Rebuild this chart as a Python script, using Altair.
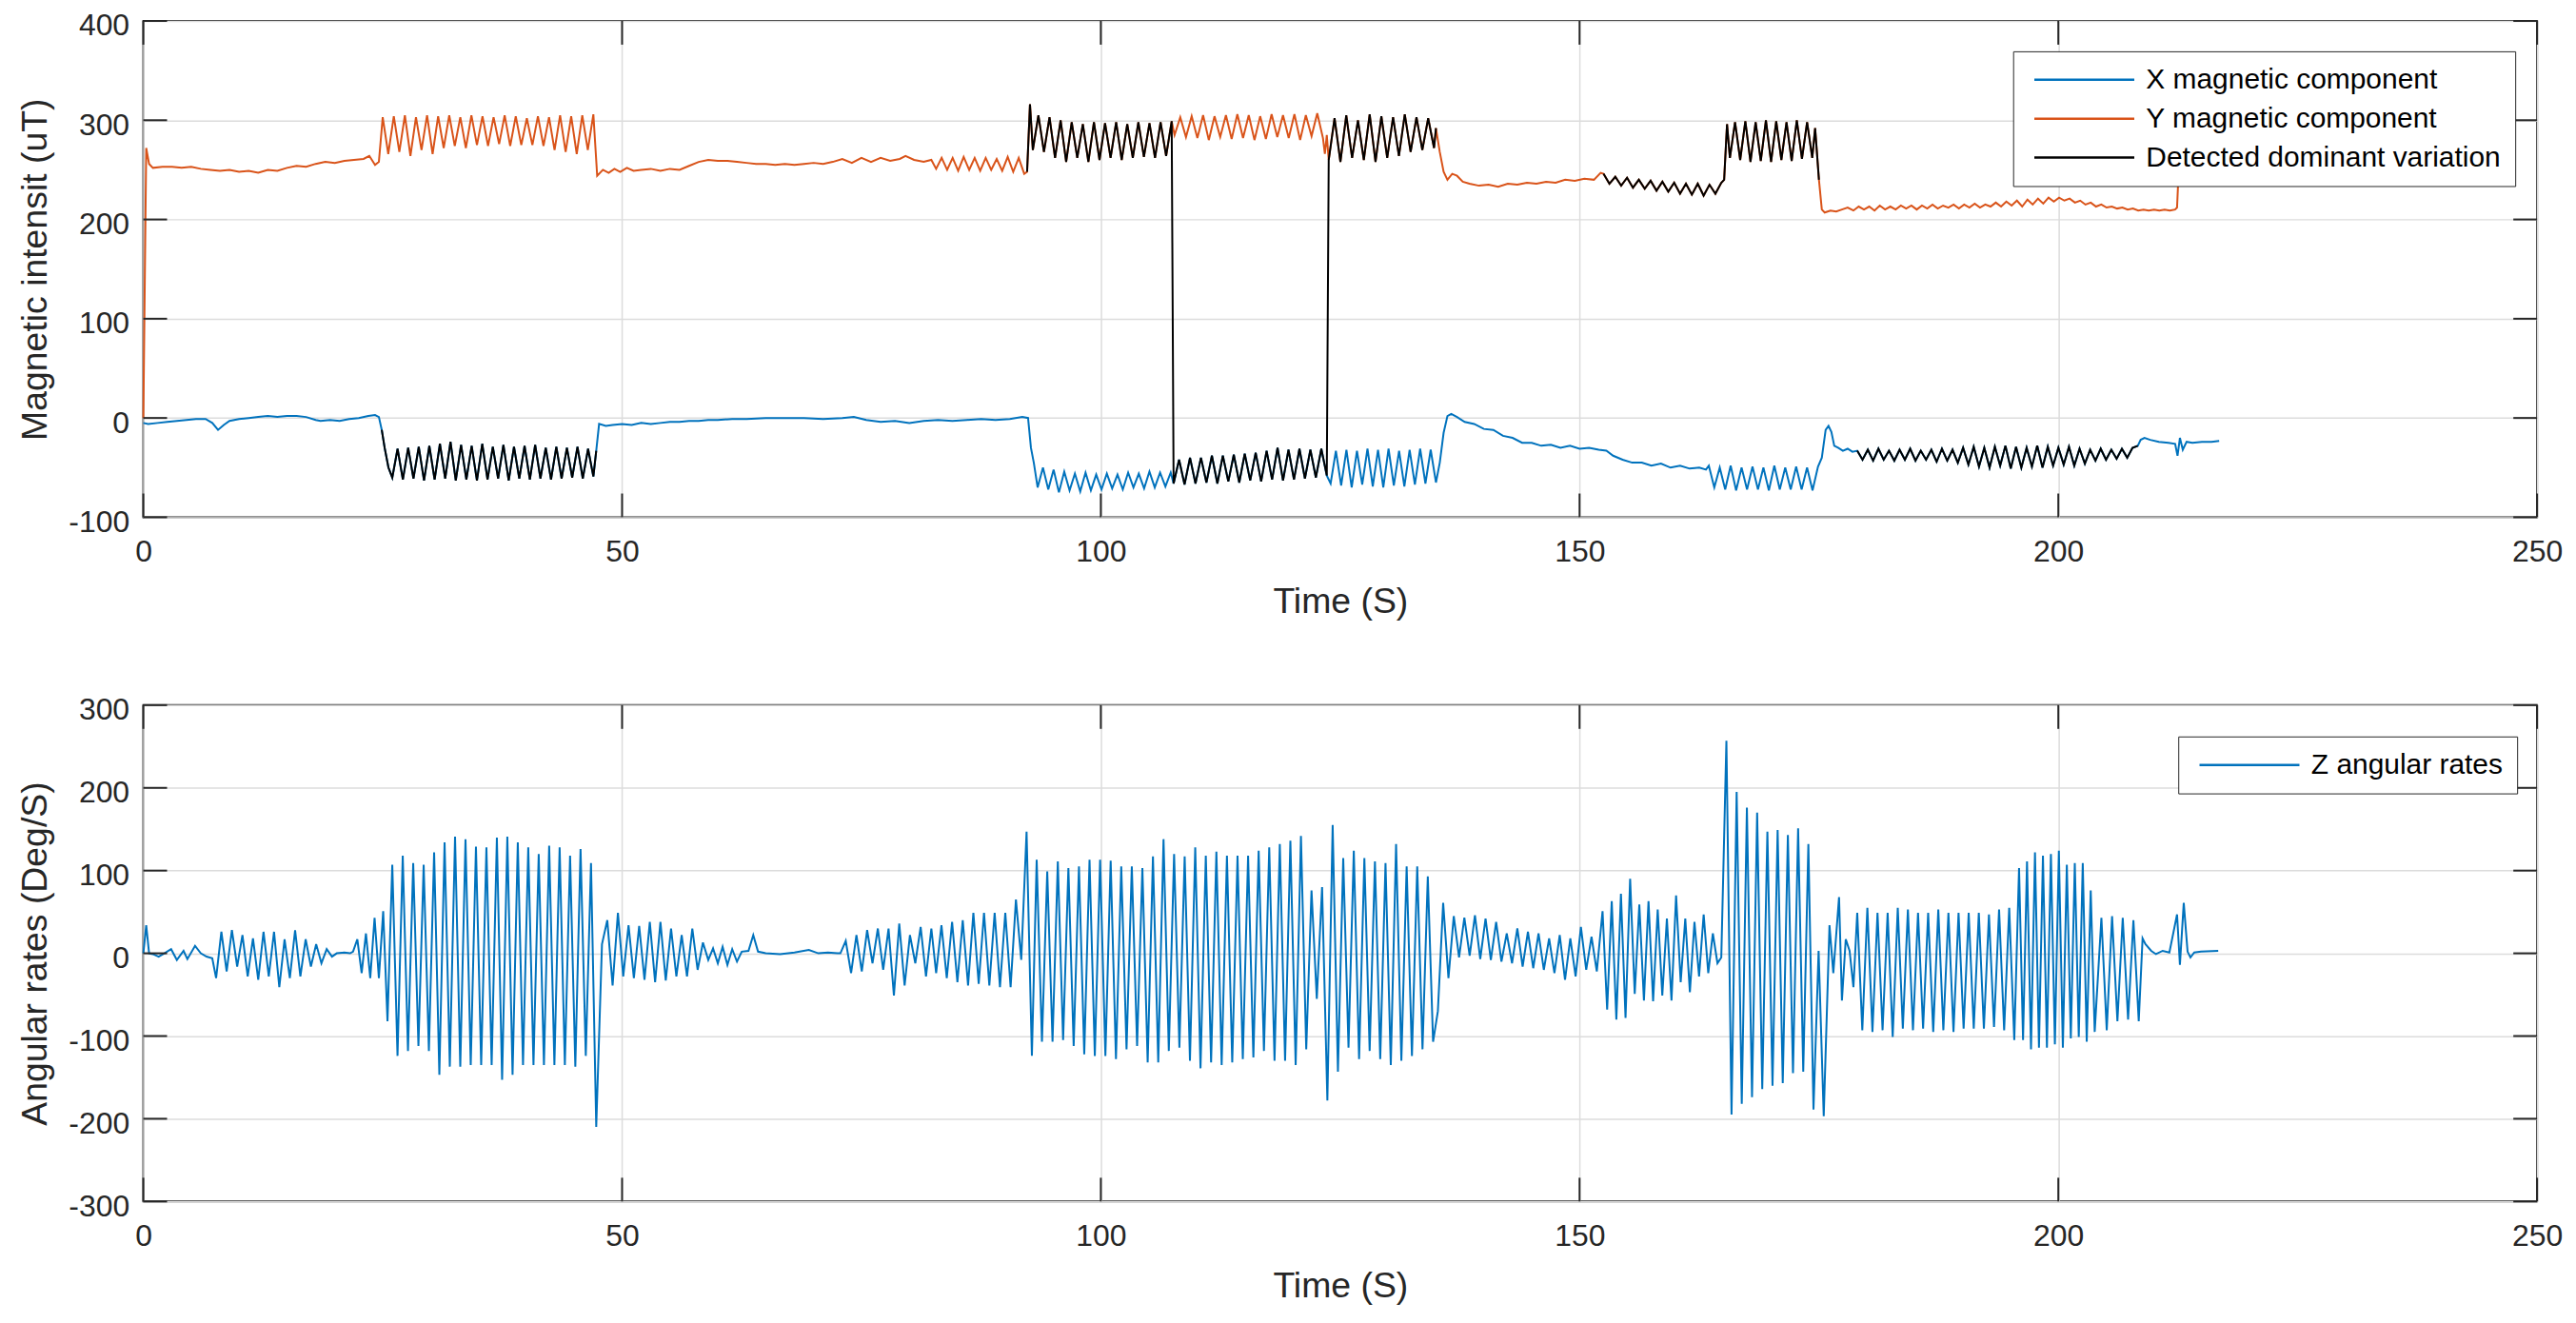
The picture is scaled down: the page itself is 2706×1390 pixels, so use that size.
import altair as alt
import pandas as pd

alt.data_transformers.disable_max_rows()

FONT = "Liberation Sans"
AXC = "#262626"
GRID = "#dcdcdc"
BLUE = "#0072BD"
ORANGE = "#D95319"
BLACK = "#000000"
W, H = 2522, 523
TL = 25

x_ticks = [0, 50, 100, 150, 200, 250]
y_ticks_top = [-100, 0, 100, 200, 300, 400]
y_ticks_bot = [-300, -200, -100, 0, 100, 200, 300]

SERIES_TOP = ["X magnetic component", "Y magnetic component", "Detected dominant variation"]
SERIES_BOT = ["Z angular rates"]

# ---------------- X magnetic component ----------------
xa_t = [0.0, 0.5, 1.5, 2.5, 3.5, 4.5, 5.5, 6.5, 7.2, 7.8, 8.4, 9.0, 10.0, 11.0, 12.0, 13.0, 14.0, 15.0,
        16.0, 17.0, 18.0, 18.5, 19.5, 20.5, 21.5, 22.5, 23.5, 24.2, 24.6]
xa_v = [-5, -6, -5, -4, -3, -2, -1, -1, -5, -12, -7, -3, -1, 0, 1, 2, 1, 2, 2, 1, -2, -3, -2, -3, -1, 0, 2, 3, 1]
b1_lead_t = [24.9, 25.2, 25.6]
b1_lead_v = [-12, -30, -50]
b1_span = (26.0, 47.0)
b1_osc = [-60, -31, -62, -30, -61, -29, -63, -28, -62, -26, -61, -24, -63, -27, -62, -28, -63, -26, -62, -29,
          -61, -27, -63, -29, -61, -28, -62, -27, -61, -30, -62, -29, -61, -30, -60, -29, -61, -31, -59]
b1_end_t = [47.3]
b1_end_v = [-33]
xc_t = [47.6, 48.3, 49.0, 50.0, 51.0, 52.0, 53.0, 54.0, 55.0, 56.0, 57.0, 58.0, 59.0, 60.0, 61.5, 63.0, 65.0,
        67.0, 69.0, 71.0, 73.0, 74.2, 75.5, 77.0, 78.5, 80.0, 81.5, 83.0, 84.5, 86.0, 87.5, 89.0, 90.5, 91.8]
xc_v = [-6, -8, -7, -6, -7, -5, -6, -5, -4, -4, -3, -3, -2, -2, -1, -1, 0, 0, 0, -1, 0, 1, -2, -4, -3, -5,
        -3, -2, -3, -2, -1, -2, -1, 1]
xd_lead_t = [92.4, 92.7, 93.0]
xd_lead_v = [0, -30, -45]
xd_span = (93.4, 107.3)
xd_osc = [-70, -50, -72, -52, -75, -54, -73, -56, -74, -55, -73, -57, -72, -56, -71, -57, -72, -55, -70, -56,
          -71, -54, -70, -55, -69, -55]
xe_span = (107.6, 123.6)
xe_osc = [-66, -42, -67, -40, -66, -40, -65, -38, -66, -38, -64, -37, -65, -36, -63, -35, -64, -33, -62, -30,
          -63, -32, -62, -31, -61, -32, -60, -31, -58]
xf_span = (124.0, 135.0)
xf_osc = [-66, -33, -68, -32, -70, -33, -67, -31, -69, -32, -70, -31, -68, -33, -69, -32, -67, -31, -66, -32, -65]
xg_t = [135.4, 135.8, 136.2, 136.6, 137.2, 138.0, 139.0, 140.0, 141.0, 142.0, 143.0, 144.0, 145.0, 146.0,
        147.0, 148.0, 149.0, 150.0, 151.0, 152.0, 152.8, 153.5, 154.5, 155.5, 156.5, 157.5, 158.5, 159.5,
        160.5, 161.5, 162.5, 163.2]
xg_v = [-45, -15, 2, 4, 1, -4, -6, -11, -12, -18, -20, -25, -25, -28, -27, -30, -28, -31, -30, -32, -33, -38,
        -42, -45, -45, -48, -46, -50, -48, -51, -50, -52]
xh_span = (163.5, 174.9)
xh_osc = [-48, -70, -50, -72, -48, -73, -50, -72, -49, -72, -50, -73, -48, -72, -50, -72, -49, -72, -50, -73, -49]
xi_t = [175.3, 175.7, 176.0, 176.3, 176.6, 177.0, 177.5, 178.0, 178.5]
xi_v = [-40, -12, -8, -14, -28, -30, -33, -31, -34]
xj_span = (179.0, 208.3)
xj_osc = [-33, -42, -32, -43, -31, -42, -33, -43, -32, -42, -31, -43, -33, -42, -32, -44, -31, -43, -32, -45,
          -30, -47, -29, -49, -30, -50, -29, -48, -28, -51, -29, -50, -30, -49, -28, -50, -29, -48, -30, -47,
          -29, -48, -31, -46, -32, -43, -31, -42, -32, -41, -31, -40, -30, -28]
xk_t = [208.6, 209.0, 209.6, 210.5, 211.5, 212.2, 212.45, 212.7, 213.0, 213.4, 214.0, 215.0, 216.0, 216.8]
xk_v = [-22, -20, -22, -24, -25, -26, -38, -20, -32, -24, -25, -24, -24, -23]

# ---------------- Y magnetic component ----------------
ya_t = [0.0, 0.3, 0.6, 1.0, 2.0, 3.0, 4.0, 5.0, 6.0, 7.0, 8.0, 9.0, 10.0, 11.0, 12.0, 13.0, 14.0, 15.0, 16.0,
        17.0, 18.0, 19.0, 20.0, 21.0, 22.0, 23.0, 23.6, 24.2, 24.6]
ya_v = [0, 272, 256, 252, 253, 253, 252, 253, 251, 250, 249, 250, 248, 249, 247, 250, 249, 252, 254, 253, 256,
        258, 257, 259, 260, 261, 264, 255, 258]
yb_span = (25.0, 47.0)
yb_osc = [303, 266, 304, 268, 305, 264, 303, 270, 305, 266, 304, 272, 305, 274, 303, 272, 305, 275, 304, 274,
          303, 276, 305, 274, 304, 275, 302, 275, 304, 274, 303, 270, 305, 268, 304, 266, 305, 270, 306]
yc_t = [47.4, 48.0, 48.6, 49.2, 49.8, 50.5, 51.2, 52.0, 53.0, 54.0, 55.0, 56.0, 57.0, 58.0, 59.0, 60.0, 61.0,
        62.0, 63.0, 64.0, 65.0, 66.0, 67.0, 68.0, 69.0, 70.0, 71.0, 72.0, 73.0, 74.0, 75.0, 76.0, 77.0, 78.0,
        79.0, 79.6, 80.5, 81.5, 82.3]
yc_v = [244, 250, 247, 251, 248, 252, 249, 250, 251, 249, 251, 250, 254, 258, 260, 259, 259, 258, 257, 256,
        256, 255, 256, 255, 256, 257, 256, 258, 261, 257, 262, 258, 262, 259, 261, 264, 260, 258, 260]
yc2_span = (82.8, 92.0)
yc2_osc = [251, 262, 250, 262, 249, 263, 250, 262, 249, 262, 250, 261, 249, 263, 248, 262, 246]
yd_lead_t = [92.3, 92.6]
yd_lead_v = [248, 316]
yd_span = (92.9, 107.4)
yd_osc = [270, 305, 268, 303, 262, 300, 258, 298, 262, 296, 258, 298, 260, 297, 262, 298, 260, 296, 262, 298,
          263, 297, 262, 298, 264, 299]
ye_span = (107.7, 123.2)
ye_osc = [285, 303, 283, 304, 282, 305, 280, 304, 283, 305, 281, 306, 282, 305, 280, 304, 281, 306, 283, 305,
          282, 306, 280, 305, 284, 307, 282]
ye_end_t = [123.4, 123.6]
ye_end_v = [266, 285]
yf_span = (123.8, 134.8)
yf_osc = [260, 302, 258, 305, 262, 300, 260, 306, 258, 304, 262, 303, 264, 306, 268, 303, 270, 302, 272]
yf_end_t = [135.0]
yf_end_v = [292]
yg_t = [135.4, 135.8, 136.2, 136.7, 137.2, 137.8, 138.5, 139.5, 140.5, 141.5, 142.5, 143.5, 144.5, 145.5,
        146.5, 147.5, 148.5, 149.5, 150.5, 151.5, 152.2]
yg_v = [268, 248, 240, 246, 244, 238, 236, 234, 235, 233, 236, 235, 237, 236, 238, 237, 240, 239, 241, 240, 247]
yh_span = (152.5, 164.8)
yh_osc = [246, 236, 243, 234, 242, 232, 240, 231, 239, 229, 238, 228, 237, 226, 236, 225, 236, 224, 235, 226, 237]
yh_mid_t = [165.1, 165.4]
yh_mid_v = [240, 296]
yh2_span = (165.7, 174.3)
yh2_osc = [262, 298, 260, 299, 258, 298, 259, 300, 258, 299, 260, 298, 259, 300, 261, 298, 262]
yh_end_t = [174.6, 175.0]
yh_end_v = [292, 240]
yi_t = [175.3, 175.6, 176.2, 176.8, 177.4, 178.0]
yi_v = [210, 207, 209, 208, 210, 212]
yj_span = (178.6, 212.2)
yj_osc = [209, 213, 210, 213, 209, 214, 210, 213, 210, 214, 211, 214, 210, 214, 211, 215, 211, 214, 212, 215,
          211, 215, 212, 216, 212, 215, 213, 217,
          213, 218, 214, 219, 213, 220, 215, 221, 216, 222, 218, 222, 219, 221, 217, 219,
          215, 217, 213, 215, 212, 213, 211, 212, 210, 211, 209, 210, 209, 210, 209, 210, 209, 210]
yk_t = [212.4, 212.6, 213.5, 215.0, 216.8]
yk_v = [212, 255, 256, 255, 255]

# ---------------- Z angular rates ----------------
z1_t = [0.0, 0.3, 0.6, 1.0, 1.6, 2.2, 2.9, 3.5, 4.2, 4.6, 5.4, 6.0, 6.6, 7.2]
z1_v = [0, 34, 0, -1, -4, 0, 5, -8, 3, -7, 9, 0, -4, -6]
z2_span = (7.6, 19.7)
z2_osc = [-30, 26, -22, 28, -16, 22, -28, 18, -32, 26, -28, 26, -41, 17, -30, 28, -28, 17, -16, 11, -12, 5, -4]
z3_t = [20.2, 21.0, 21.6]
z3_v = [0, 1, 0]
z4_span = (21.9, 25.5)
z4_osc = [2, 17, -24, 24, -30, 43, -30, 51, -82]
z5_span = (26.0, 47.3)
z5_osc = [107, -124, 118, -118, 109, -112, 107, -118, 122, -147, 134, -137, 141, -137, 138, -135, 129, -135,
          128, -135, 140, -153, 141, -147, 134, -135, 128, -135, 120, -135, 130, -135, 128, -135, 118, -137,
          126, -124, 109, -210]
z6_span = (47.9, 59.0)
z6_osc = [11, 40, -39, 49, -28, 34, -30, 33, -32, 38, -35, 38, -33, 30, -28, 22, -28, 30, -20, 13, -8]
z7_t = [59.5, 60.0, 60.5, 61.0, 61.5, 62.0, 62.5, 63.2, 63.7, 64.2, 65.0, 66.5, 68.0, 69.5, 70.5, 71.5, 72.5]
z7_v = [6, -12, 8, -14, 5, -10, 2, 3, 22, 2, 0, -1, 1, 4, 0, 1, 0]
z8_span = (72.8, 82.3)
z8_osc = [0, 15, -24, 22, -22, 28, -12, 30, -20, 30, -51, 36, -39, 22, -12, 32, -28, 30]
z9_span = (82.8, 92.8)
z9_osc = [-24, 34, -30, 38, -35, 40, -39, 49, -37, 49, -39, 49, -41, 49, -41, 65, -8, 147, -124]
z10_span = (93.3, 134.7)
z10_osc = [113, -107, 99, -107, 111, -105, 103, -112, 105, -122,
           113, -124, 113, -124, 112, -128, 105, -116, 105, -112,
           103, -132, 117, -132, 138, -118, 120, -114, 117, -130,
           128, -139, 118, -132, 123, -135, 118, -132, 118, -128,
           118, -126, 124, -118, 128, -130, 132, -130, 136, -135,
           142, -116, 76, -55, 80, -178, 155, -143, 115, -114,
           124, -128, 115, -118, 111, -128, 109, -135, 132, -130,
           105, -124, 105, -116, 93, -107]
z11_span = (135.2, 151.8)
z11_osc = [-70, 61, -30, 45, -5, 43, -3, 46, -7, 42, -8, 38, -10, 24, -12, 30, -16, 26, -18, 24, -20, 18,
           -24, 22, -32, 18, -28, 32, -20, 20, -22]
z12_span = (152.4, 164.4)
z12_osc = [51, -68, 63, -80, 72, -78, 90, -49, 59, -57, 63, -58, 53, -51, 42, -57, 70, -35, 42, -47, 38, -28,
           47, -24, 24, -12]
z13_span = (164.8, 175.5)
z13_osc = [-5, 257, -195, 195, -182, 176, -174, 170, -164, 147, -160, 149, -157, 143, -145, 151, -143, 132,
           -189, 3, -197]
z14_t = [176.1, 176.5, 177.1, 177.4, 177.8, 178.2, 178.6]
z14_v = [34, -24, 68, -57, 17, 3, -41]
z15_span = (179.0, 195.4)
z15_osc = [49, -93, 55, -95, 49, -93, 49, -101, 55, -91, 53, -93, 49, -91, 49, -95, 53, -93, 49, -95, 49, -91,
           49, -91, 49, -91, 47, -89, 53, -93, 55, -105]
z16_span = (195.9, 203.8)
z16_osc = [103, -105, 111, -116, 122, -114, 118, -114, 120, -110, 124, -114, 107, -103, 109, -101, 109, -107,
           76, -95]
z17_span = (204.5, 208.4)
z17_osc = [43, -93, 45, -82, 43, -80, 40, -82]
z18_t = [208.8, 209.1, 209.7, 210.2, 210.9, 211.6, 212.4, 212.7, 213.1, 213.5, 213.8, 214.2, 214.9, 216.7]
z18_v = [18, 11, 3, -1, 3, 1, 47, -14, 61, 2, -5, 1, 2, 3]


def seg(span, vals):
    """Readings taken at evenly spaced sample times across a segment."""
    t0, t1 = span
    n = len(vals)
    step = (t1 - t0) / (n - 1)
    return [t0 + i * step for i in range(n)], list(vals)


def pts(ts, vs):
    return list(ts), list(vs)


def join(*pieces):
    T, V = [], []
    for t, v in pieces:
        T += t
        V += v
    return T, V


def frame(series, part, tv):
    t, v = tv
    return pd.DataFrame({"t": t, "v": v, "series": series, "part": part})


X = join(pts(xa_t, xa_v), pts(b1_lead_t, b1_lead_v), seg(b1_span, b1_osc), pts(b1_end_t, b1_end_v),
         pts(xc_t, xc_v), pts(xd_lead_t, xd_lead_v), seg(xd_span, xd_osc), seg(xe_span, xe_osc),
         seg(xf_span, xf_osc), pts(xg_t, xg_v), seg(xh_span, xh_osc), pts(xi_t, xi_v),
         seg(xj_span, xj_osc), pts(xk_t, xk_v))
Y = join(pts(ya_t, ya_v), seg(yb_span, yb_osc), pts(yc_t, yc_v), seg(yc2_span, yc2_osc),
         pts(yd_lead_t, yd_lead_v), seg(yd_span, yd_osc), seg(ye_span, ye_osc), pts(ye_end_t, ye_end_v),
         seg(yf_span, yf_osc), pts(yf_end_t, yf_end_v), pts(yg_t, yg_v), seg(yh_span, yh_osc),
         pts(yh_mid_t, yh_mid_v), seg(yh2_span, yh2_osc), pts(yh_end_t, yh_end_v), pts(yi_t, yi_v),
         seg(yj_span, yj_osc), pts(yk_t, yk_v))
D1 = join(pts(b1_lead_t, b1_lead_v), seg(b1_span, b1_osc), pts(b1_end_t, b1_end_v))
D2 = join(pts(yd_lead_t, yd_lead_v), seg(yd_span, yd_osc), seg(xe_span, xe_osc), seg(yf_span, yf_osc),
          pts(yf_end_t, yf_end_v))
D3 = join(seg(yh_span, yh_osc), pts(yh_mid_t, yh_mid_v), seg(yh2_span, yh2_osc), pts(yh_end_t, yh_end_v))
D4 = join(seg(xj_span, xj_osc))

Z = join(pts(z1_t, z1_v), seg(z2_span, z2_osc), pts(z3_t, z3_v), seg(z4_span, z4_osc), seg(z5_span, z5_osc),
         seg(z6_span, z6_osc), pts(z7_t, z7_v), seg(z8_span, z8_osc), seg(z9_span, z9_osc),
         seg(z10_span, z10_osc), seg(z11_span, z11_osc), seg(z12_span, z12_osc), seg(z13_span, z13_osc),
         pts(z14_t, z14_v), seg(z15_span, z15_osc), seg(z16_span, z16_osc), seg(z17_span, z17_osc),
         pts(z18_t, z18_v))

xy_df = pd.concat([frame(SERIES_TOP[0], "x", X), frame(SERIES_TOP[1], "y", Y)], ignore_index=True)
det_df = pd.concat([frame(SERIES_TOP[2], "d1", D1), frame(SERIES_TOP[2], "d2", D2),
                    frame(SERIES_TOP[2], "d3", D3), frame(SERIES_TOP[2], "d4", D4)], ignore_index=True)
z_df = frame(SERIES_BOT[0], "z", Z)


def xenc():
    return alt.X("t:Q", scale=alt.Scale(domain=[0, 250], nice=False, zero=False),
                 axis=alt.Axis(title="Time (S)", values=x_ticks, grid=True, gridColor=GRID, gridWidth=1.5,
                               ticks=False, tickSize=0, domain=False, labelFont=FONT, labelFontSize=32,
                               labelColor=AXC, labelPadding=46, labelBaseline="alphabetic", labelFlush=False,
                               labelExpr="'' + datum.value",
                               titleFont=FONT, titleFontSize=37.5, titleFontWeight="normal", titleColor=AXC,
                               titleY=100, titleBaseline="alphabetic"))


def yenc(domain, ticks, title):
    return alt.Y("v:Q", scale=alt.Scale(domain=domain, nice=False, zero=False),
                 axis=alt.Axis(title=title, values=ticks, grid=True, gridColor=GRID, gridWidth=1.5,
                               ticks=False, tickSize=0, domain=False, labelFont=FONT, labelFontSize=32,
                               labelColor=AXC, labelPadding=15, labelBaseline="middle", labelOffset=5,
                               labelFlush=False, labelExpr="'' + datum.value",
                               titleFont=FONT, titleFontSize=37.5, titleFontWeight="normal", titleColor=AXC,
                               titleX=-102, titleY=H / 2, titleBaseline="alphabetic", titleAngle=270))


# legend line symbol: a custom horizontal path, about 105 px long, with a small nominal size
LEG_SYMBOL = "M-3.9,0H3.9"


def color_enc(dom, rng, lx, ly):
    return alt.Color("series:N", scale=alt.Scale(domain=dom, range=rng),
                     legend=alt.Legend(title=None, orient="none", legendX=lx, legendY=ly,
                                       symbolType=LEG_SYMBOL, symbolSize=729, symbolStrokeWidth=2.5,
                                       symbolOffset=45, labelOffset=50,
                                       labelFont=FONT, labelFontSize=30, labelColor="#000000",
                                       labelLimit=0, padding=15, rowPadding=11,
                                       strokeColor=AXC, fillColor="white", cornerRadius=0))


def tick_layers(ydom, yticks, ytitle):
    tx = pd.DataFrame({"t": x_ticks})
    ty = pd.DataFrame({"v": yticks})
    rule = dict(color=AXC, strokeWidth=2)
    return [
        alt.Chart(tx).mark_rule(**rule).encode(x=xenc(), y=alt.value(0), y2=alt.value(TL)),
        alt.Chart(tx).mark_rule(**rule).encode(x=xenc(), y=alt.value(H - TL), y2=alt.value(H)),
        alt.Chart(ty).mark_rule(**rule).encode(y=yenc(ydom, yticks, ytitle), x=alt.value(0), x2=alt.value(TL)),
        alt.Chart(ty).mark_rule(**rule).encode(y=yenc(ydom, yticks, ytitle), x=alt.value(W - TL), x2=alt.value(W)),
    ]


top_dom = [-100, 400]
top_title = "Magnetic intensit (uT)"
ctop = color_enc(SERIES_TOP, [BLUE, ORANGE, BLACK], 1970, 32)
top_lines = alt.Chart(xy_df).mark_line(strokeWidth=2).encode(
    x=xenc(), y=yenc(top_dom, y_ticks_top, top_title), color=ctop, detail="part:N")
top_det = alt.Chart(det_df).mark_line(strokeWidth=2).encode(
    x=xenc(), y=yenc(top_dom, y_ticks_top, top_title), color=ctop, detail="part:N")
top = alt.layer(top_lines, top_det, *tick_layers(top_dom, y_ticks_top, top_title)).properties(width=W, height=H)

bot_dom = [-300, 300]
bot_title = "Angular rates (Deg/S)"
cbot = color_enc(SERIES_BOT, [BLUE], 2144, 33)
bot_lines = alt.Chart(z_df).mark_line(strokeWidth=2).encode(
    x=xenc(), y=yenc(bot_dom, y_ticks_bot, bot_title), color=cbot, detail="part:N")
bottom = alt.layer(bot_lines, *tick_layers(bot_dom, y_ticks_bot, bot_title)).properties(width=W, height=H)

chart = alt.vconcat(top, bottom, spacing=198, bounds="flush").resolve_scale(color="independent").properties(
    padding={"left": 9, "top": 0, "right": 5, "bottom": 5}, background="white"
).configure_view(stroke=AXC, strokeWidth=2)

chart.save("out.html", embed_options={"renderer": "svg", "actions": False})
